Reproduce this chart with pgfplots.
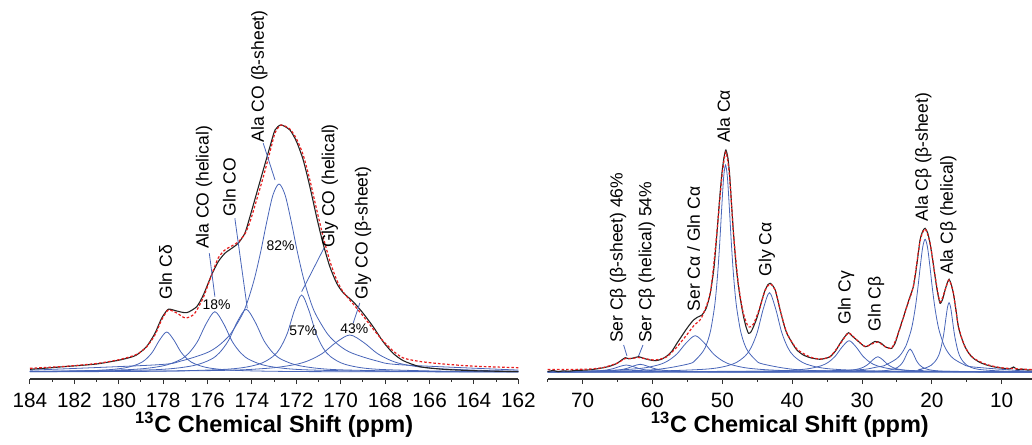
\documentclass[border=0pt]{standalone}
\usepackage{fontspec}
\setmainfont{Liberation Sans}
\usepackage{pgfplots}
\pgfplotsset{compat=1.18}
\definecolor{cblue}{RGB}{72,101,184}
\definecolor{cred}{RGB}{232,30,30}
\definecolor{cblack}{RGB}{35,35,35}
\newcommand{\lab}{\fontsize{8.8}{10}\selectfont}
\newcommand{\pct}{\fontsize{7}{8}\selectfont}
\pgfplotsset{
  nmr/.style={
    scale only axis, height=189.5bp, x dir=reverse, ymin=-7, ymax=372,
    axis x line*=bottom, axis y line=none,
    x axis line style={-, line width=0.6bp, color=black!80},
    tick align=outside, major tick length=2.5bp, minor tick length=1.4bp,
    every tick/.append style={black!80, line width=0.5bp},
    tick label style={font=\fontsize{10.4}{12}\selectfont},
    xticklabel style={yshift=-1bp},
    /pgf/number format/assume math mode=true,
    xlabel={\bfseries\textsuperscript{13}C Chemical Shift (ppm)},
    xlabel style={font=\fontsize{11.8}{14}\selectfont, yshift=4.5bp},
    clip=false,
  },
  comp/.style={cblue, line width=0.4bp, smooth, tension=0.5},
  expt/.style={cblack, line width=0.55bp, smooth, tension=0.4},
  fit/.style={cred, line width=0.6bp, dash pattern=on 1.3bp off 1bp, smooth, tension=0.4},
}
\begin{document}
\begin{tikzpicture}
\useasboundingbox (0bp,0bp) rectangle (516bp,222.5bp);
% ---------------- left panel ----------------
\begin{axis}[nmr, at={(15bp,33bp)}, anchor=south west, width=244.15bp,
  xmin=162, xmax=184, xtick={184,182,...,162}, minor xtick={183,181,...,163}]
% Gln Cdelta
\addplot[comp] coordinates {(184,0.43) (181.04,1.54) (179.76,4) (179.12,8) (178.8,12.3) (178.48,20) (178.16,32) (177.84,40) (177.52,32) (177.2,20) (176.88,12.3) (176.56,8) (175.92,4) (174.64,1.54) (171.44,0.4) (162,0.07)};
% Ala CO helical
\addplot[comp] coordinates {(184,0.54) (179.62,2.3) (178.04,6.0) (177.25,12.1) (176.855,18.6) (176.46,30.2) (176.065,48.2) (175.67,60.3) (175.275,48.2) (174.88,30.2) (174.485,18.6) (174.09,12.1) (173.3,6.0) (171.72,2.3) (167.77,0.6) (162,0.2)};
% Gln CO
\addplot[comp] coordinates {(184,0.42) (182.26,0.62) (178.26,2.4) (176.66,6.3) (175.86,12.5) (175.46,19.3) (175.06,31.4) (174.66,50.2) (174.26,62.7) (173.86,50.2) (173.46,31.4) (173.06,19.3) (172.66,12.5) (171.86,6.3) (170.26,2.4) (166.26,0.62) (162,0.27)};
% Ala CO beta-sheet
\addplot[comp] coordinates {(184,1.79) (178.28,7.2) (177.18,11.1) (176.08,18.8) (175.53,25.9) (174.98,37.6) (174.43,57.8) (174.155,73.4) (173.88,94) (173.605,120.3) (173.33,150.4) (173.055,176.9) (172.78,188) (172.505,176.9) (172.23,150.4) (171.955,120.3) (171.68,94) (171.405,73.4) (171.13,57.8) (170.58,37.6) (170.03,25.9) (169.48,18.8) (168.38,11.1) (167.28,7.2) (162,1.94)};
% Gly CO helical
\addplot[comp] coordinates {(184,0.22) (178.26,0.76) (175.01,2.96) (173.71,7.7) (173.06,15.4) (172.735,23.7) (172.41,38.5) (172.085,61.6) (171.76,77) (171.435,61.6) (171.11,38.5) (170.785,23.7) (170.46,15.4) (169.81,7.7) (168.51,2.96) (165.26,0.76) (162,0.34)};
% Gly CO beta-sheet
\addplot[comp] coordinates {(184,0.27) (175.79,1.42) (173.31,3.7) (172.07,7.4) (171.45,11.4) (170.83,18.5) (170.21,29.6) (169.59,37) (168.97,29.6) (168.35,18.5) (167.73,11.4) (167.11,7.4) (165.87,3.7) (163.39,1.42) (162,0.96)};
% experimental
\addplot[expt] coordinates {(184,2.7) (183.2,4) (182.5,5.3) (181.7,6.6) (181,8) (180.5,9.8) (179.95,12) (179.5,14.5) (179.2,17) (178.75,25.3) (178.37,38.7) (178.07,53.7) (177.77,62.7) (177.39,61) (176.94,59.3) (176.49,65.3) (176.19,77) (175.82,97) (175.52,110.3) (175.22,118.7) (174.91,123.7) (174.62,128.7) (174.32,138.7) (174.09,155.3) (173.79,178.7) (173.49,202) (173.19,225.3) (172.96,242) (172.69,247) (172.29,242) (171.99,230.3) (171.69,212) (171.39,185.3) (171.09,155.3) (170.8,128.7) (170.49,105.3) (170.18,88.7) (169.89,79.3) (169.44,70.3) (168.99,58.7) (168.54,45.3) (168.09,30.3) (167.64,18.7) (167.18,11.3) (166.43,5.3) (165.38,2.7) (164,1.3) (162,0.3)};
% fit
\addplot[fit] coordinates {(184,3.7) (182.5,5.5) (181,8.5) (179.95,12.5) (179.2,17.5) (178.75,25) (178.37,37) (178.07,52) (177.77,62) (177.39,59) (177.0,54) (176.6,58) (176.2,74) (175.82,97) (175.52,114) (175.22,122) (174.91,126) (174.62,130) (174.32,138) (174.09,150) (173.79,172) (173.49,195) (173.19,220) (172.96,239) (172.69,247) (172.29,243) (171.99,233) (171.69,217) (171.39,192) (171.09,163) (170.8,136) (170.49,111) (170.18,92) (169.89,80) (169.44,68) (168.99,56) (168.54,43) (168.09,31) (167.64,21) (167.18,14) (166.43,10.5) (165.38,8) (164,5.8) (162,4.3)};
% annotations
\node[rotate=90, anchor=west, inner sep=0, font=\lab] at (axis cs:177.89,72) {Gln Cδ};
\node[rotate=90, anchor=west, inner sep=0, font=\lab] at (axis cs:176.16,122.7) {Ala CO (helical)};
\draw[cblue, line width=0.4bp] (axis cs:175.92,118.7) -- (axis cs:175.67,75.3);
\node[inner sep=0, font=\pct] at (axis cs:175.59,67) {18\%};
\node[rotate=90, anchor=west, inner sep=0, font=\lab] at (axis cs:175.02,155.3) {Gln CO};
\draw[cblue, line width=0.4bp] (axis cs:174.77,153.7) -- (axis cs:174.21,63.7);
\node[rotate=90, anchor=west, inner sep=0, font=\lab] at (axis cs:173.67,229.3) {Ala CO (β-sheet)};
\draw[cblue, line width=0.4bp] (axis cs:173.49,228.7) -- (axis cs:172.96,192);
\node[inner sep=0, font=\pct] at (axis cs:172.71,126) {82\%};
\node[rotate=90, anchor=west, inner sep=0, font=\lab] at (axis cs:170.49,123.7) {Gly CO (helical)};
\draw[cblue, line width=0.4bp] (axis cs:170.76,123.7) -- (axis cs:171.76,80.3);
\node[inner sep=0, font=\pct] at (axis cs:171.69,41) {57\%};
\node[rotate=90, anchor=west, inner sep=0, font=\lab] at (axis cs:168.99,72) {Gly CO (β-sheet)};
\draw[cblue, line width=0.4bp] (axis cs:169.14,69) -- (axis cs:169.44,48.7);
\node[inner sep=0, font=\pct] at (axis cs:169.39,43.7) {43\%};
\end{axis}
% ---------------- right panel ----------------
\begin{axis}[nmr, at={(273.85bp,33bp)}, anchor=south west, width=242.15bp,
  xmin=5.665, xmax=75, xtick={70,60,...,10}, minor xtick={75,65,...,15}]
\addplot[comp] coordinates {(75,0.18) (72.75,0.27) (69.15,0.7) (67.35,1.4) (66.45,2.15) (65.55,3.5) (64.65,5.6) (63.75,7) (62.85,5.6) (61.95,3.5) (61.05,2.15) (60.15,1.4) (58.35,0.7) (54.75,0.27) (45.75,0.07) (5.665,0.0)};
\addplot[comp] coordinates {(75,0.14) (70.75,0.3) (67.15,0.77) (65.35,1.54) (64.45,2.37) (63.55,3.85) (62.65,6.16) (61.75,7.7) (60.85,6.16) (59.95,3.85) (59.05,2.37) (58.15,1.54) (56.35,0.77) (52.75,0.3) (43.75,0.08) (5.665,0.01)};
\addplot[comp] coordinates {(75,0.54) (66.88,1.4) (61.68,3.63) (59.08,7.26) (57.78,11.2) (56.48,18.15) (55.18,29.0) (53.88,36.3) (52.58,29.0) (51.28,18.15) (49.98,11.2) (48.68,7.26) (46.08,3.63) (40.88,1.4) (27.88,0.36) (5.665,0.1)};
\addplot[comp] coordinates {(75,0.37) (70.94,0.52) (60.24,2.05) (54.89,7.97) (53.82,12.2) (52.75,20.7) (52.215,28.5) (51.68,41.4) (51.145,63.7) (50.8775,80.8) (50.61,103.5) (50.3425,132.5) (50.075,165.6) (49.8075,194.8) (49.54,207) (49.2725,194.8) (49.005,165.6) (48.7375,132.5) (48.47,103.5) (48.2025,80.8) (47.935,63.7) (47.4,41.4) (46.865,28.5) (46.33,20.7) (45.26,12.2) (44.19,7.97) (38.84,2.05) (28.14,0.52) (5.665,0.12)};
\addplot[comp] coordinates {(75,0.24) (60.75,0.79) (52,3.05) (48.5,7.93) (46.75,15.86) (45.875,24.4) (45,39.65) (44.125,63.4) (43.25,79.3) (42.375,63.4) (41.5,39.65) (40.625,24.4) (39.75,15.86) (38,7.93) (34.5,3.05) (25.75,0.79) (5.665,0.17)};
\addplot[comp] coordinates {(75,0.07) (51.85,0.31) (41.85,1.2) (37.85,3.13) (35.85,6.26) (34.85,9.63) (33.85,15.65) (32.85,25.0) (31.85,31.3) (30.85,25.0) (29.85,15.65) (28.85,9.63) (27.85,6.26) (25.85,3.13) (21.85,1.2) (11.85,0.31) (5.665,0.18)};
\addplot[comp] coordinates {(75,0.01) (41.74,0.15) (34.74,0.59) (31.94,1.53) (30.54,3.06) (29.84,4.7) (29.14,7.65) (28.44,12.24) (27.74,15.3) (27.04,12.24) (26.34,7.65) (25.64,4.7) (24.94,3.06) (23.54,1.53) (20.74,0.59) (13.74,0.15) (5.665,0.06)};
\addplot[comp] coordinates {(75,0.0) (32.12,0.23) (27.62,0.88) (25.82,2.3) (24.92,4.6) (24.47,7.08) (24.02,11.5) (23.57,18.4) (23.12,23) (22.67,18.4) (22.22,11.5) (21.77,7.08) (21.32,4.6) (20.42,2.3) (18.62,0.88) (14.12,0.23) (5.665,0.06)};
\addplot[comp] coordinates {(75,0.08) (34.57,1.31) (27.77,5.1) (26.41,7.8) (25.05,13.27) (24.37,18.3) (23.69,26.5) (23.01,40.8) (22.67,51.8) (22.33,66.35) (21.99,84.9) (21.65,106.2) (21.31,124.9) (20.97,132.7) (20.63,124.9) (20.29,106.2) (19.95,84.9) (19.61,66.35) (19.27,51.8) (18.93,40.8) (18.25,26.5) (17.57,18.3) (16.89,13.27) (15.53,7.8) (14.17,5.1) (7.37,1.31) (5.665,1.04)};
\addplot[comp] coordinates {(75,0.02) (25.94,0.69) (21.74,2.67) (20.06,6.93) (19.22,13.86) (18.8,21.3) (18.38,34.65) (18.17,44.4) (17.96,55.4) (17.75,65.2) (17.54,69.3) (17.33,65.2) (17.12,55.4) (16.91,44.4) (16.7,34.65) (16.28,21.3) (15.86,13.86) (15.02,6.93) (13.34,2.67) (9.14,0.69) (5.665,0.35)};
% experimental
\addplot[expt] coordinates {(75,0.5) (74.2,1.5) (73.5,0.3) (72.8,1.2) (72,0.8) (71,1.6) (70,1.8) (69.37,2) (68.5,2.6) (67.8,3.3) (67,4.3) (66,6) (65.08,8.7) (64.4,12) (63.89,14.3) (63.4,13.2) (62.93,13.7) (62.45,14.6) (61.99,15.3) (61.4,14) (60.79,12.7) (60.2,11.8) (59.6,11.3) (58.8,12.5) (57.93,16) (57.2,21) (56.5,28.7) (55.8,36) (55.06,43.7) (54.6,48) (54.12,52) (53.5,55) (52.92,57) (52.3,64) (51.73,78.7) (51.2,104) (50.77,138.7) (50.4,172) (50.06,198.7) (49.75,215) (49.49,222) (49.2,214) (48.97,198.7) (48.7,170) (48.4,138.7) (48.05,108) (47.68,85.3) (47.3,68) (46.96,55.3) (46.6,45) (46.25,38.7) (45.9,40) (45.54,45.3) (45.05,54) (44.58,65.3) (44.2,75) (43.86,82) (43.5,87) (43.15,88.7) (42.8,86.5) (42.43,82) (42.05,72) (41.72,62) (41.25,49) (40.76,38.7) (40,29) (39.33,22) (38.4,17) (37.42,14.3) (36.7,13.3) (36,12.7) (35.3,13.5) (34.56,15.3) (33.8,21) (33.13,28.7) (32.5,35) (31.95,39.3) (31.35,35.5) (30.74,32) (30.1,28) (29.56,25.3) (29.05,26.5) (28.6,28.7) (28.15,30.5) (27.74,30.3) (27.2,28.5) (26.7,25.3) (26.2,24) (25.74,23.7) (25.25,29) (24.79,39.3) (24.2,52) (23.6,65.3) (23.1,76) (22.65,85.3) (22.2,105) (21.69,132) (21.3,141) (20.97,143.7) (20.6,139) (20.26,128.7) (19.9,113) (19.54,95.3) (19.2,80) (18.83,68.7) (18.45,73) (18.11,82) (17.8,89) (17.54,92.7) (17.25,88) (16.92,78.7) (16.55,62) (16.21,45.3) (15.7,33) (15.25,25.3) (14.7,18.5) (14.06,13.7) (13.1,9.5) (12.15,7) (11,5) (9.77,3.7) (8.8,3.2) (8.3,5) (7.8,2.5) (7,2.8) (6.3,2) (5.665,2.2)};
% fit
\addplot[fit] coordinates {(75,2.5) (72,2.5) (69,3) (67,4.5) (65,9) (63.9,13.5) (62.9,13.5) (62,14.5) (60.8,13) (59.6,12) (58,15) (56.5,25) (55,38) (54,47) (53,54) (51.7,80) (50.8,138) (50.06,195) (49.5,220) (48.97,196) (48.4,138) (47.7,88) (47,59) (46.25,45) (45.54,48) (44.6,65) (43.86,82) (43.15,88) (42.43,82) (41.72,62) (40.76,39) (39.33,23) (37.42,15) (36,13) (34.56,15.5) (33.13,28) (31.95,39) (30.74,32) (29.56,25.5) (28.6,28) (27.74,30) (26.7,25.5) (25.74,24) (24.79,39) (23.6,65) (22.65,86) (21.69,131) (20.97,143) (20.26,129) (19.54,96) (18.83,70) (18.11,82) (17.54,92) (16.92,79) (16.21,46) (15.25,25) (14.06,14) (12.15,7.5) (9.77,4) (5.665,2.5)};
% annotations
\node[rotate=90, anchor=west, inner sep=0, font=\lab] at (axis cs:64.94,28.7) {Ser Cβ (β-sheet) 46\%};
\draw[cblue, line width=0.4bp] (axis cs:64.13,27) -- (axis cs:63.65,16);
\node[rotate=90, anchor=west, inner sep=0, font=\lab] at (axis cs:60.79,28.7) {Ser Cβ (helical) 54\%};
\draw[cblue, line width=0.4bp] (axis cs:61.36,27) -- (axis cs:61.99,16);
\node[rotate=90, anchor=west, inner sep=0, font=\lab] at (axis cs:54.12,60.3) {Ser Cα / Gln Cα};
\node[rotate=90, anchor=west, inner sep=0, font=\lab] at (axis cs:49.83,228.7) {Ala Cα};
\node[rotate=90, anchor=west, inner sep=0, font=\lab] at (axis cs:43.62,95.3) {Gly Cα};
\node[rotate=90, anchor=west, inner sep=0, font=\lab] at (axis cs:32.27,47) {Gln Cγ};
\node[rotate=90, anchor=west, inner sep=0, font=\lab] at (axis cs:27.98,40.3) {Gln Cβ};
\node[rotate=90, anchor=west, inner sep=0, font=\lab] at (axis cs:21.22,150.3) {Ala Cβ (β-sheet)};
\node[rotate=90, anchor=west, inner sep=0, font=\lab] at (axis cs:17.64,97) {Ala Cβ (helical)};
\end{axis}
\end{tikzpicture}
\end{document}
